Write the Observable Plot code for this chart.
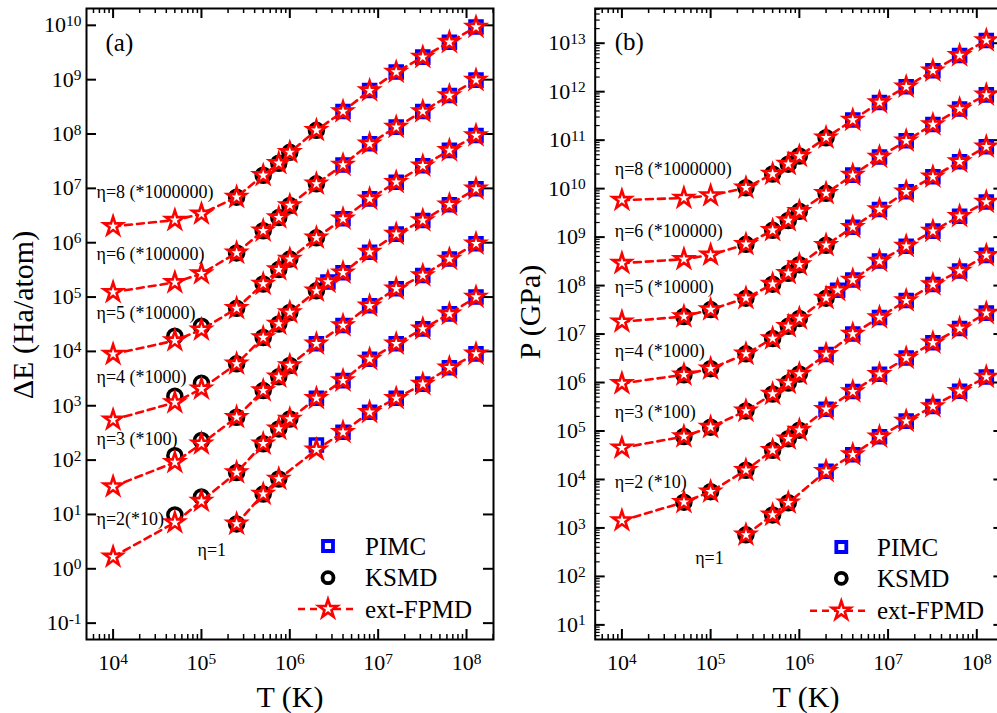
<!DOCTYPE html>
<html>
<head>
<meta charset="utf-8">
<script src="https://cdn.jsdelivr.net/npm/d3@7"></script>
<script src="https://cdn.jsdelivr.net/npm/@observablehq/plot@0.6"></script>
<style>
  html, body { margin: 0; padding: 0; background: #fff; overflow: hidden; }
  #wrap { position: relative; width: 997px; height: 713px; overflow: hidden; background: #fff; font-family: "Liberation Serif", serif; }
  #pa { position: absolute; left: 0; top: 0; width: 497px; }
  #pb { position: absolute; left: 497px; top: 0; width: 520px; }
  #leg { position: absolute; left: 0; top: 0; }
  svg { max-width: none !important; }
</style>
</head>
<body>
<div id="wrap">
  <div id="pa"></div>
  <div id="pb"></div>
  <svg id="leg" width="997" height="713"></svg>
</div>
<script>
// ---------------- DATA ----------------
const ETAS = ["η=1", "η=2", "η=3", "η=4", "η=5", "η=6", "η=8"];
const T_ALL  = [1e4, 5e4, 1e5, 2.5e5, 5e5, 7.5e5, 1e6, 2e6, 4e6, 8e6, 1.6e7, 3.2e7, 6.4e7, 1.28e8];
const T_ETA4 = [1e4, 5e4, 1e5, 2.5e5, 5e5, 7.5e5, 1e6, 2e6, 2.7e6, 4e6, 8e6, 1.6e7, 3.2e7, 6.4e7, 1.28e8];
const T_ETA1 = [2.5e5, 5e5, 7.5e5, 2e6, 4e6, 8e6, 1.6e7, 3.2e7, 6.4e7, 1.28e8];

// KSMD temperatures
const T_KS_ETA1 = [2.5e5, 5e5, 7.5e5];
const T_KS_LOW  = [5e4, 1e5, 2.5e5, 5e5, 7.5e5, 1e6];
const T_KS_MID  = [5e4, 1e5, 2.5e5, 5e5, 7.5e5, 1e6, 2e6];
const T_KS_HIGH = [2.5e5, 5e5, 7.5e5, 1e6, 2e6];
// PIMC temperatures
const T_PI_LOW  = [2e6, 4e6, 8e6, 1.6e7, 3.2e7, 6.4e7, 1.28e8];
const T_PI_ETA4 = [2.7e6, 4e6, 8e6, 1.6e7, 3.2e7, 6.4e7, 1.28e8];
const T_PI_HIGH = [4e6, 8e6, 1.6e7, 3.2e7, 6.4e7, 1.28e8];

// (a) ΔE ext-FPMD (scaled)
const E_ETA1 = [6.7, 23.7, 45, 155, 325, 760, 1.37e3, 2.5e3, 5.0e3, 9.0e3];
const E_ETA2 = [1.66, 7.1, 17.6, 59, 200, 375, 570, 1.37e3, 2.9e3, 7.2e3, 1.38e4, 2.6e4, 4.9e4, 1.0e5];
const E_ETA3 = [32.6, 91, 200, 614, 1.9e3, 3.4e3, 5.5e3, 1.38e4, 3.0e4, 6.9e4, 1.42e5, 2.5e5, 5.0e5, 9.6e5];
const E_ETA4 = [550, 1.15e3, 2.05e3, 5.9e3, 1.8e4, 3.2e4, 5.2e4, 1.3e5, 1.9e5, 2.8e5, 6.7e5, 1.44e6, 2.57e6, 5.0e6, 9.8e6];
const E_ETA5 = [8.9e3, 1.58e4, 2.5e4, 6.2e4, 1.74e5, 3.2e5, 5.0e5, 1.23e6, 2.75e6, 6.4e6, 1.3e7, 2.6e7, 5.0e7, 9.4e7];
const E_ETA6 = [1.23e5, 1.86e5, 2.7e5, 6.5e5, 1.66e6, 2.9e6, 4.85e6, 1.21e7, 2.7e7, 6.6e7, 1.34e8, 2.6e8, 5.1e8, 9.8e8];
const E_ETA8 = [2.0e6, 2.6e6, 3.4e6, 6.9e6, 1.74e7, 2.9e7, 4.6e7, 1.17e8, 2.6e8, 6.3e8, 1.38e9, 2.6e9, 4.9e9, 9.3e9];
// (a) KSMD
const EK_ETA1 = [6.7, 23.7, 45];
const EK_ETA2 = [9.8, 21, 59, 200, 375, 570];
const EK_ETA3 = [120, 230, 614, 1.9e3, 3.4e3, 5.5e3];
const EK_ETA4 = [1.5e3, 2.6e3, 5.9e3, 1.8e4, 3.2e4, 5.2e4, 1.3e5];
const EK_ETA5 = [1.9e4, 2.9e4, 6.2e4, 1.74e5, 3.2e5, 5.0e5, 1.23e6];
const EK_ETA6 = [6.5e5, 1.66e6, 2.9e6, 4.85e6, 1.21e7];
const EK_ETA8 = [6.9e6, 1.74e7, 2.9e7, 4.6e7, 1.17e8];
// (a) PIMC
const EP_ETA1 = [190, 325, 760, 1.37e3, 2.5e3, 5.0e3, 9.0e3];
const EP_ETA2 = [1.37e3, 2.9e3, 7.2e3, 1.38e4, 2.6e4, 4.9e4, 1.0e5];
const EP_ETA3 = [1.38e4, 3.0e4, 6.9e4, 1.42e5, 2.5e5, 5.0e5, 9.6e5];
const EP_ETA4 = [1.9e5, 2.8e5, 6.7e5, 1.44e6, 2.57e6, 5.0e6, 9.8e6];
const EP_ETA5 = [2.75e6, 6.4e6, 1.3e7, 2.6e7, 5.0e7, 9.4e7];
const EP_ETA6 = [2.7e7, 6.6e7, 1.34e8, 2.6e8, 5.1e8, 9.8e8];
const EP_ETA8 = [2.6e8, 6.3e8, 1.38e9, 2.6e9, 4.9e9, 9.3e9];

// (b) P ext-FPMD (scaled)
const P_ETA1 = [720, 1.86e3, 3.3e3, 1.48e4, 3.25e4, 7.6e4, 1.6e5, 3.2e5, 6.6e5, 1.3e6];
const P_ETA2 = [1.42e3, 3.4e3, 5.6e3, 1.55e4, 4.0e4, 6.9e4, 1.04e5, 2.8e5, 6.5e5, 1.48e6, 3.2e6, 6.6e6, 1.3e7, 2.7e7];
const P_ETA3 = [4.5e4, 7.7e4, 1.2e5, 2.6e5, 5.8e5, 9.8e5, 1.5e6, 3.8e6, 1.0e7, 2.2e7, 4.9e7, 1.05e8, 2.0e8, 4.2e8];
const P_ETA4 = [9.6e5, 1.45e6, 1.93e6, 3.9e6, 8.1e6, 1.44e7, 2.1e7, 5.5e7, 8.0e7, 1.3e8, 3.2e8, 6.5e8, 1.33e9, 2.7e9, 5.3e9];
const P_ETA5 = [1.8e7, 2.3e7, 3.2e7, 5.5e7, 1.07e8, 1.8e8, 2.7e8, 6.8e8, 1.6e9, 3.7e9, 8.6e9, 1.75e10, 3.6e10, 7.3e10];
const P_ETA6 = [2.9e8, 3.5e8, 4.3e8, 7.1e8, 1.38e9, 2.2e9, 3.4e9, 8.0e9, 1.9e10, 4.5e10, 9.7e10, 2.1e11, 4.4e11, 8.6e11];
const P_ETA8 = [5.8e9, 6.4e9, 7.2e9, 1.04e10, 2.0e10, 3.2e10, 4.7e10, 1.12e11, 2.6e11, 6.0e11, 1.26e12, 2.7e12, 5.6e12, 1.14e13];
// (b) KSMD
const PK_ETA1 = [720, 1.86e3, 3.3e3];
const PK_ETA2 = [3.4e3, 5.6e3, 1.55e4, 4.0e4, 6.9e4, 1.04e5];
const PK_ETA3 = [7.7e4, 1.2e5, 2.6e5, 5.8e5, 9.8e5, 1.5e6];
const PK_ETA4 = [1.45e6, 1.93e6, 3.9e6, 8.1e6, 1.44e7, 2.1e7, 5.5e7];
const PK_ETA5 = [2.3e7, 3.2e7, 5.5e7, 1.07e8, 1.8e8, 2.7e8, 6.8e8];
const PK_ETA6 = [7.1e8, 1.38e9, 2.2e9, 3.4e9, 8.0e9];
const PK_ETA8 = [1.04e10, 2.0e10, 3.2e10, 4.7e10, 1.12e11];
// (b) PIMC
const PP_ETA1 = [1.48e4, 3.25e4, 7.6e4, 1.6e5, 3.2e5, 6.6e5, 1.3e6];
const PP_ETA2 = [2.8e5, 6.5e5, 1.48e6, 3.2e6, 6.6e6, 1.3e7, 2.7e7];
const PP_ETA3 = [3.8e6, 1.0e7, 2.2e7, 4.9e7, 1.05e8, 2.0e8, 4.2e8];
const PP_ETA4 = [8.0e7, 1.3e8, 3.2e8, 6.5e8, 1.33e9, 2.7e9, 5.3e9];
const PP_ETA5 = [1.6e9, 3.7e9, 8.6e9, 1.75e10, 3.6e10, 7.3e10];
const PP_ETA6 = [1.9e10, 4.5e10, 9.7e10, 2.1e11, 4.4e11, 8.6e11];
const PP_ETA8 = [2.6e11, 6.0e11, 1.26e12, 2.7e12, 5.6e12, 1.14e13];

// annotation texts
const LABELS_A = ["η=8 (*1000000)", "η=6 (*100000)", "η=5 (*10000)", "η=4 (*1000)", "η=3 (*100)", "η=2(*10)", "η=1"];
const LABELS_B = ["η=8 (*1000000)", "η=6 (*100000)", "η=5 (*10000)", "η=4 (*1000)", "η=3 (*100)", "η=2 (*10)", "η=1"];
const LEGEND = ["PIMC", "KSMD", "ext-FPMD"];
const X_TICKS = [1e4, 1e5, 1e6, 1e7, 1e8];
const Y_TICKS_A = [1e-1, 1e0, 1e1, 1e2, 1e3, 1e4, 1e5, 1e6, 1e7, 1e8, 1e9, 1e10];
const Y_TICKS_B = [1e1, 1e2, 1e3, 1e4, 1e5, 1e6, 1e7, 1e8, 1e9, 1e10, 1e11, 1e12, 1e13];

// ---------------- LAYOUT / STYLE ----------------
const FONT = "Liberation Serif, serif";
const H = 713, MT = 8, MB = 74;
const XDOMAIN = [5000, 2.02e8];
const BLUE = "#0000ff", RED = "#ff0000";
// label pixel offsets (centre-left) from the frame's top-left corner
const LABEL_POS_A = [[10, 184], [10, 246], [10, 304.7], [10, 368.7], [10, 430.3], [10, 510.3], [111, 542]];
const LABEL_POS_B = [[19.6, 161], [19.6, 223], [19.6, 278.7], [19.6, 342.5], [19.6, 403.7], [19.6, 473.7], [100, 549.5]];

function rows(eta, Ts, vs) { return vs.map((v, i) => ({eta, T: Ts[i], v})); }
const sup = d => "10^" + Math.round(Math.log10(d));

function minorTicks(lo, hi) {
  const out = [];
  for (let k = Math.floor(Math.log10(lo)) - 1; k <= Math.ceil(Math.log10(hi)); k++)
    for (let m = 2; m <= 9; m++) { const v = m * Math.pow(10, k); if (v > lo && v < hi) out.push(v); }
  return out;
}

function supify(svg) {
  svg.querySelectorAll("text").forEach(t => {
    const m = /^10\^(-?\d+)$/.exec(t.textContent);
    if (m) {
      t.textContent = "10";
      const ts = document.createElementNS("http://www.w3.org/2000/svg", "tspan");
      ts.setAttribute("dy", "-0.42em");
      ts.setAttribute("font-size", "0.7em");
      ts.textContent = m[1];
      t.appendChild(ts);
    }
  });
}

function panel(cfg) {
  const innerW = cfg.width - cfg.marginLeft - cfg.marginRight;
  const innerH = H - MT - MB;
  const xMinor = minorTicks(XDOMAIN[0], XDOMAIN[1]);
  const yMinor = cfg.minorY ? minorTicks(cfg.ydomain[0], cfg.ydomain[1]) : [];
  const marks = [
    Plot.frame({stroke: "black", strokeWidth: 2}),
    Plot.tickX(X_TICKS, {x: d => d, insetTop: innerH - 10, stroke: "black", strokeWidth: 2}),
    Plot.tickX(X_TICKS, {x: d => d, insetBottom: innerH - 10, stroke: "black", strokeWidth: 2}),
    Plot.tickX(xMinor, {x: d => d, insetTop: innerH - 5, stroke: "black", strokeWidth: 1.5}),
    Plot.tickX(xMinor, {x: d => d, insetBottom: innerH - 5, stroke: "black", strokeWidth: 1.5}),
    Plot.tickY(cfg.yticks, {y: d => d, insetRight: innerW - 10, stroke: "black", strokeWidth: 2}),
    Plot.tickY(cfg.yticks, {y: d => d, insetLeft: innerW - 10, stroke: "black", strokeWidth: 2}),
    Plot.tickY(yMinor, {y: d => d, insetRight: innerW - 5, stroke: "black", strokeWidth: 1.2}),
    Plot.tickY(yMinor, {y: d => d, insetLeft: innerW - 5, stroke: "black", strokeWidth: 1.2}),
    Plot.axisX({ticks: X_TICKS, tickSize: 0, tickPadding: 15, tickFormat: sup, label: null, fontSize: 22, fontFamily: FONT}),
    Plot.axisY({ticks: cfg.yticks, tickSize: 0, tickPadding: cfg.padY, tickFormat: sup, label: null, fontSize: 22, fontFamily: FONT}),
    Plot.dot(cfg.pimc, {x: "T", y: "v", symbol: "square", r: 6.8, stroke: BLUE, strokeWidth: 3.5, fill: "none"}),
    Plot.dot(cfg.ksmd, {x: "T", y: "v", symbol: "circle", r: 7, stroke: "black", strokeWidth: 3.5, fill: "none"}),
    Plot.line(cfg.fpmd, {x: "T", y: "v", z: "eta", stroke: RED, strokeWidth: 2.6, strokeDasharray: "7,5"}),
    Plot.dot(cfg.fpmd, {x: "T", y: "v", symbol: "star", r: 5.8, stroke: RED, strokeWidth: 2.6, fill: "white"}),
    Plot.text([cfg.panelLabel], {frameAnchor: "top-left", dx: cfg.panelDx, dy: 34, textAnchor: "start", lineAnchor: "middle", fontSize: 25, fontFamily: FONT})
  ];
  cfg.labels.forEach((s, i) => {
    marks.push(Plot.text([s], {frameAnchor: "top-left", dx: cfg.labelPos[i][0], dy: cfg.labelPos[i][1], textAnchor: "start", lineAnchor: "middle", fontSize: 18, fontFamily: FONT}));
  });
  const svg = Plot.plot({
    width: cfg.width, height: H,
    marginLeft: cfg.marginLeft, marginRight: cfg.marginRight, marginTop: MT, marginBottom: MB,
    x: {type: "log", domain: XDOMAIN},
    y: {type: "log", domain: cfg.ydomain},
    style: {fontFamily: FONT, fontSize: "22px", color: "black", background: "transparent", maxWidth: "none", overflow: "visible"},
    marks
  });
  svg.setAttribute("font-family", FONT);
  supify(svg);
  return svg;
}

const fpmdA = [
  ...rows(ETAS[0], T_ETA1, E_ETA1), ...rows(ETAS[1], T_ALL, E_ETA2), ...rows(ETAS[2], T_ALL, E_ETA3),
  ...rows(ETAS[3], T_ETA4, E_ETA4), ...rows(ETAS[4], T_ALL, E_ETA5), ...rows(ETAS[5], T_ALL, E_ETA6),
  ...rows(ETAS[6], T_ALL, E_ETA8)];
const ksmdA = [
  ...rows(ETAS[0], T_KS_ETA1, EK_ETA1), ...rows(ETAS[1], T_KS_LOW, EK_ETA2), ...rows(ETAS[2], T_KS_LOW, EK_ETA3),
  ...rows(ETAS[3], T_KS_MID, EK_ETA4), ...rows(ETAS[4], T_KS_MID, EK_ETA5), ...rows(ETAS[5], T_KS_HIGH, EK_ETA6),
  ...rows(ETAS[6], T_KS_HIGH, EK_ETA8)];
const pimcA = [
  ...rows(ETAS[0], T_PI_LOW, EP_ETA1), ...rows(ETAS[1], T_PI_LOW, EP_ETA2), ...rows(ETAS[2], T_PI_LOW, EP_ETA3),
  ...rows(ETAS[3], T_PI_ETA4, EP_ETA4), ...rows(ETAS[4], T_PI_HIGH, EP_ETA5), ...rows(ETAS[5], T_PI_HIGH, EP_ETA6),
  ...rows(ETAS[6], T_PI_HIGH, EP_ETA8)];

const fpmdB = [
  ...rows(ETAS[0], T_ETA1, P_ETA1), ...rows(ETAS[1], T_ALL, P_ETA2), ...rows(ETAS[2], T_ALL, P_ETA3),
  ...rows(ETAS[3], T_ETA4, P_ETA4), ...rows(ETAS[4], T_ALL, P_ETA5), ...rows(ETAS[5], T_ALL, P_ETA6),
  ...rows(ETAS[6], T_ALL, P_ETA8)];
const ksmdB = [
  ...rows(ETAS[0], T_KS_ETA1, PK_ETA1), ...rows(ETAS[1], T_KS_LOW, PK_ETA2), ...rows(ETAS[2], T_KS_LOW, PK_ETA3),
  ...rows(ETAS[3], T_KS_MID, PK_ETA4), ...rows(ETAS[4], T_KS_MID, PK_ETA5), ...rows(ETAS[5], T_KS_HIGH, PK_ETA6),
  ...rows(ETAS[6], T_KS_HIGH, PK_ETA8)];
const pimcB = [
  ...rows(ETAS[0], T_PI_LOW, PP_ETA1), ...rows(ETAS[1], T_PI_LOW, PP_ETA2), ...rows(ETAS[2], T_PI_LOW, PP_ETA3),
  ...rows(ETAS[3], T_PI_ETA4, PP_ETA4), ...rows(ETAS[4], T_PI_HIGH, PP_ETA5), ...rows(ETAS[5], T_PI_HIGH, PP_ETA6),
  ...rows(ETAS[6], T_PI_HIGH, PP_ETA8)];

document.getElementById("pa").appendChild(panel({
  width: 497, marginLeft: 86, marginRight: 4, ydomain: [0.05, 2.04e10], yticks: Y_TICKS_A,
  minorY: false, padY: 5, fpmd: fpmdA, ksmd: ksmdA, pimc: pimcA,
  labels: LABELS_A, labelPos: LABEL_POS_A, panelLabel: "(a)", panelDx: 19
}));
document.getElementById("pb").appendChild(panel({
  width: 510.4, marginLeft: 97.7, marginRight: 4, ydomain: [5, 5.2e13], yticks: Y_TICKS_B,
  minorY: true, padY: 9.5, fpmd: fpmdB, ksmd: ksmdB, pimc: pimcB,
  labels: LABELS_B, labelPos: LABEL_POS_B, panelLabel: "(b)", panelDx: 19.6
}));

// ---------------- AXIS TITLES & LEGENDS (overlay) ----------------
const leg = d3.select("#leg");
function title(txt, x, y, rot) {
  leg.append("text").attr("transform", `translate(${x},${y}) rotate(${rot})`)
    .attr("text-anchor", "middle").attr("dy", "0.33em")
    .attr("font-family", FONT).attr("font-size", 30).attr("fill", "black").text(txt);
}
title("T (K)", 290, 697, 0);
title("T (K)", 806, 697, 0);
title("ΔE (Ha/atom)", 23, 315, -90);
title("P (GPa)", 530, 312, -90);

function drawLegend(sx, ys, lx1, lx2, tx) {
  const g = leg.append("g");
  g.append("path").attr("transform", `translate(${sx},${ys[0]})`)
    .attr("d", d3.symbol(d3.symbolSquare, 100)()).attr("fill", "none").attr("stroke", BLUE).attr("stroke-width", 3.8);
  g.append("path").attr("transform", `translate(${sx},${ys[1]})`)
    .attr("d", d3.symbol(d3.symbolCircle, Math.PI * 5.5 * 5.5)()).attr("fill", "none").attr("stroke", "black").attr("stroke-width", 3.8);
  g.append("line").attr("x1", lx1).attr("x2", lx2).attr("y1", ys[2]).attr("y2", ys[2])
    .attr("stroke", RED).attr("stroke-width", 2.6).attr("stroke-dasharray", "7,5");
  g.append("path").attr("transform", `translate(${sx},${ys[2]})`)
    .attr("d", d3.symbol(d3.symbolStar, Math.PI * 5.8 * 5.8)()).attr("fill", "white").attr("stroke", RED).attr("stroke-width", 2.6);
  LEGEND.forEach((s, i) => {
    g.append("text").attr("x", tx).attr("y", ys[i]).attr("dy", "0.34em")
      .attr("font-family", FONT).attr("font-size", 25).attr("fill", "black").text(s);
  });
}
drawLegend(328, [546, 577.7, 609], 298, 357, 365);
drawLegend(841.3, [547, 578.3, 610.7], 810, 870, 877);
</script>
</body>
</html>
